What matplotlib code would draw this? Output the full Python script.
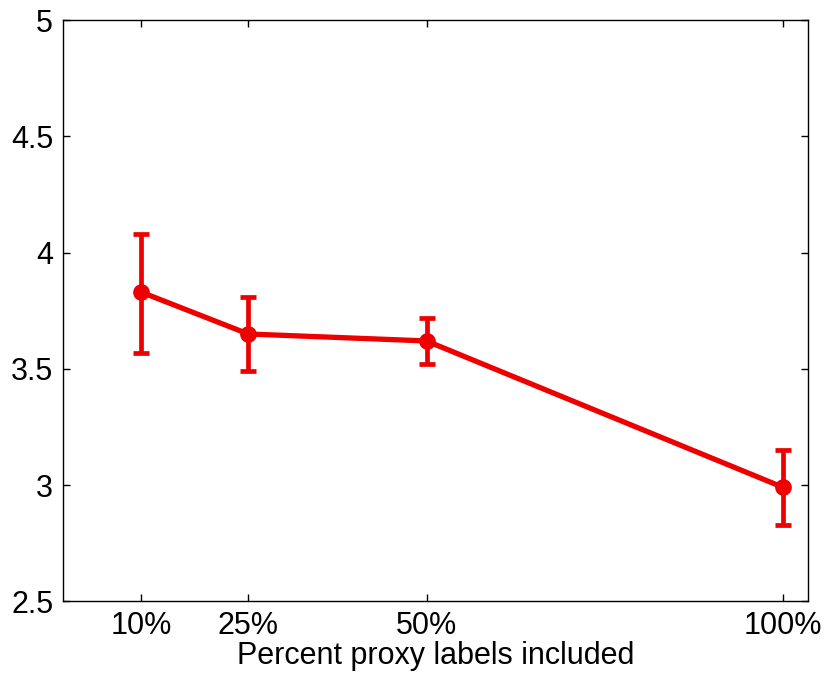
import matplotlib.pyplot as plt
import numpy as np

plt.rcParams['font.family'] = ['Liberation Sans', 'DejaVu Sans']

# data
pct = [10, 25, 50, 100]
tick_labels = ['10%', '25%', '50%', '100%']
mean = [3.83, 3.65, 3.62, 2.99]
err_hi = [4.08, 3.81, 3.72, 3.15]
err_lo = [3.57, 3.49, 3.52, 2.83]

mean = np.array(mean)
yerr = [mean - np.array(err_lo), np.array(err_hi) - mean]

fig = plt.figure(figsize=(8.27, 6.77), dpi=100)
ax = fig.add_axes([0.076, 0.112, 0.901, 0.858])

ax.errorbar(pct, mean, yerr=yerr, color='#ee0000', lw=3.8, marker='o', ms=11,
            elinewidth=3.4, capsize=5.5, capthick=3.4)

ax.set_xlim(-1, 103.5)
ax.set_ylim(2.5, 5)
ax.set_xticks(pct)
ax.set_xticklabels(tick_labels)
ax.set_yticks([2.5, 3, 3.5, 4, 4.5, 5])
ax.set_yticklabels(['2.5', '3', '3.5', '4', '4.5', '5'])
ax.tick_params(direction='in', length=5, width=1, labelsize=22, top=True, right=True, pad=7)
for s in ax.spines.values():
    s.set_linewidth(1)
ax.set_xlabel('Percent proxy labels included', fontsize=22, labelpad=0)

plt.savefig('out.png', dpi=100)
